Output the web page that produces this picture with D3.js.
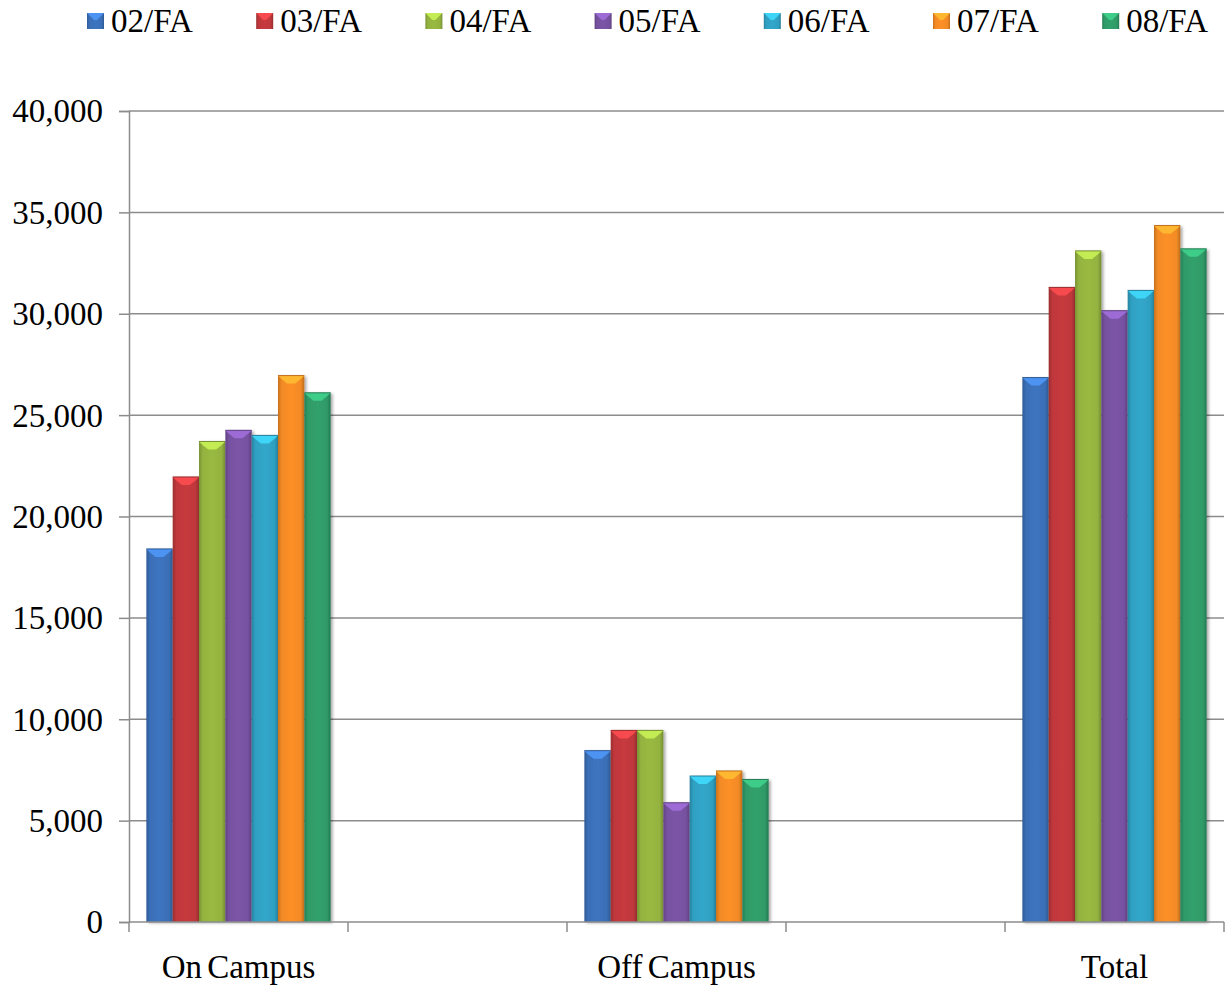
<!DOCTYPE html>
<html>
<head>
<meta charset="utf-8">
<script src="https://cdn.jsdelivr.net/npm/d3@7"></script>
<style>
  html, body { margin: 0; padding: 0; background: #fff; }
  svg { display: block; }
  text { font-family: "Liberation Serif", "Times New Roman", serif; fill: #000; }
</style>
</head>
<body>
<svg id="chart" width="1225" height="988"></svg>
<script>
// ---- Data ----
const categories = ["On Campus", "", "Off Campus", " ", "Total"];
const seriesNames = ["02/FA", "03/FA", "04/FA", "05/FA", "06/FA", "07/FA", "08/FA"];
const onCampus  = [18400, 21950, 23700, 24250, 24000, 26950, 26100];
const offCampus = [8450, 9450, 9450, 5880, 7200, 7450, 7030];
const total     = [26850, 31300, 33100, 30150, 31150, 34350, 33200];
const yTicks = [0, 5000, 10000, 15000, 20000, 25000, 30000, 35000, 40000];
const seriesColors = ["#3a6fb7", "#bf383b", "#93b23f", "#7651a0", "#2fa0c2", "#f28a25", "#2f9a67"];

const valuesByCategory = {
  "On Campus": onCampus,
  "Off Campus": offCampus,
  "Total": total
};

// ---- Layout ----
const mLeft = 129, mRight = 1224, mTop = 111, mBottom = 922;
const FS = "33px";
const svg = d3.select("#chart");
const defs = svg.append("defs");

// gradients per series
seriesColors.forEach((c, i) => {
  const base = d3.color(c);
  const g = defs.append("linearGradient").attr("id", "grad" + i)
    .attr("x1", "0%").attr("x2", "100%").attr("y1", "0%").attr("y2", "0%");
  g.append("stop").attr("offset", "0%").attr("stop-color", base.darker(0.55));
  g.append("stop").attr("offset", "14%").attr("stop-color", base);
  g.append("stop").attr("offset", "50%").attr("stop-color", base.brighter(0.12));
  g.append("stop").attr("offset", "86%").attr("stop-color", base);
  g.append("stop").attr("offset", "100%").attr("stop-color", base.darker(0.65));
});
const f = defs.append("filter").attr("id", "shadow")
  .attr("x", "-20%").attr("y", "-5%").attr("width", "150%").attr("height", "115%");
f.append("feDropShadow").attr("dx", 2).attr("dy", 1).attr("stdDeviation", 1.5)
  .attr("flood-color", "#000").attr("flood-opacity", 0.35);

const y = d3.scaleLinear().domain([0, 40000]).range([mBottom, mTop]);
const x = d3.scaleBand().domain(categories).range([mLeft, mRight]).padding(0);
const xs = d3.scaleBand().domain(seriesNames).range([0, x.bandwidth()]).paddingInner(0).paddingOuter(0.66);

// gridlines
svg.append("g").selectAll("line").data(yTicks.filter(d => d > 0)).join("line")
  .attr("x1", mLeft).attr("x2", mRight)
  .attr("y1", d => y(d)).attr("y2", d => y(d))
  .attr("stroke", "#8c8c8c").attr("stroke-width", 1.5);

// Y axis
const yAxis = d3.axisLeft(y).tickValues(yTicks).tickSize(10).tickPadding(16)
  .tickFormat(d3.format(","));
const yg = svg.append("g").attr("transform", `translate(${mLeft},0)`).call(yAxis);
yg.select(".domain").attr("stroke", "#8c8c8c").attr("stroke-width", 1.5);
yg.selectAll(".tick line").attr("stroke", "#8c8c8c").attr("stroke-width", 1.5);
yg.selectAll(".tick text").style("font-size", FS).attr("dy", "0.33em").attr("fill", "#000")
  .style("font-family", '"Liberation Serif", "Times New Roman", serif');

// bars
const barG = svg.append("g");
["On Campus", "Off Campus", "Total"].forEach(cat => {
  const vals = valuesByCategory[cat];
  const g = barG.append("g").attr("transform", `translate(${x(cat)},0)`);
  const bars = g.selectAll("g.bar").data(vals.map((v, i) => ({v, i, s: seriesNames[i]})))
    .join("g").attr("class", "bar");
  bars.append("rect")
    .attr("x", d => xs(d.s))
    .attr("y", d => y(d.v))
    .attr("width", xs.bandwidth())
    .attr("height", d => mBottom - y(d.v))
    .attr("fill", d => `url(#grad${d.i})`)
    .attr("filter", "url(#shadow)");
  // top bevel highlight
  bars.append("path")
    .attr("d", d => {
      const x0 = xs(d.s), x1 = x0 + xs.bandwidth(), yt = y(d.v), xc = (x0 + x1) / 2;
      return `M${x0},${yt} L${x1},${yt} L${x1 - 3},${yt + 3} L${xc + 4},${yt + 8} L${xc - 4},${yt + 8} L${x0 + 3},${yt + 3} Z`;
    })
    .attr("fill", d => d3.color(seriesColors[d.i]).brighter(0.9))
    .attr("opacity", 0.85);
  bars.append("path")
    .attr("d", d => {
      const x0 = xs(d.s), x1 = x0 + xs.bandwidth(), yt = y(d.v);
      return `M${x0},${yt} L${x1},${yt}`;
    })
    .attr("stroke", d => d3.color(seriesColors[d.i]).darker(0.6))
    .attr("stroke-width", 1);
});

// X axis
const xg = svg.append("g");
xg.append("line").attr("x1", mLeft).attr("x2", mRight).attr("y1", mBottom).attr("y2", mBottom)
  .attr("stroke", "#8c8c8c").attr("stroke-width", 1.5);
const boundaries = categories.map(c => x(c)).concat([x(categories[categories.length - 1]) + x.bandwidth()]);
xg.selectAll("line.tick").data(boundaries).join("line").attr("class", "tick")
  .attr("x1", d => d).attr("x2", d => d).attr("y1", mBottom).attr("y2", mBottom + 10)
  .attr("stroke", "#8c8c8c").attr("stroke-width", 1.5);
xg.selectAll("text").data(categories.filter(c => c.trim() !== "")).join("text")
  .attr("x", d => x(d) + x.bandwidth() / 2)
  .attr("y", 978)
  .attr("text-anchor", "middle")
  .style("font-size", FS)
  .style("word-spacing", "-3px")
  .text(d => d);

// Legend
const legendX0 = 87, legendStep = 169.2;
const lg = svg.append("g");
const li = lg.selectAll("g").data(seriesNames).join("g")
  .attr("transform", (d, i) => `translate(${legendX0 + i * legendStep},0)`);
li.append("rect").attr("x", 0).attr("y", 13).attr("width", 17).attr("height", 16)
  .attr("fill", (d, i) => `url(#grad${i})`);
li.append("path").attr("d", "M0,13 L17,13 L14,16 L10,20 L7,20 L3,16 Z")
  .attr("fill", (d, i) => d3.color(seriesColors[i]).brighter(0.9)).attr("opacity", 0.85);
li.append("text").attr("x", 24).attr("y", 32).style("font-size", FS).text(d => d);
</script>
</body>
</html>
